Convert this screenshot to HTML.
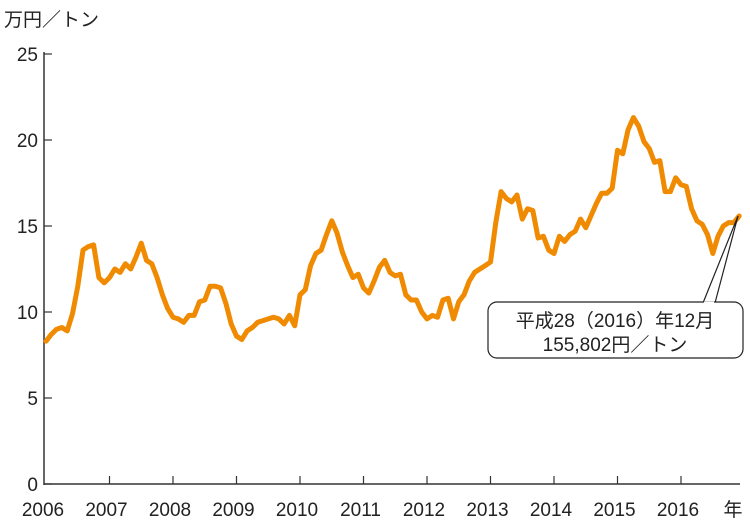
<!DOCTYPE html>
<html><head><meta charset="utf-8"><style>
body{margin:0;background:#fff;}
svg{display:block;font-family:"Liberation Sans","Noto Sans CJK JP",sans-serif;}
</style></head><body>
<svg width="750" height="531" viewBox="0 0 750 531">
<g id="axes"></g>
<g id="plot"></g>
<text x="4" y="26" font-size="19" fill="#222">万円／トン</text>
<g>
<polyline points="703,303 738,216 715,303" fill="#fff" stroke="#222" stroke-width="1.2"/>
<rect x="488" y="302" width="255" height="56" rx="9" fill="#fff" stroke="#222" stroke-width="1.2"/>
<line x1="704" y1="302.6" x2="714" y2="302.6" stroke="#fff" stroke-width="2"/>
<text x="615" y="327" font-size="19" text-anchor="middle" fill="#222">平成28（2016）年12月</text>
<text x="615" y="351" font-size="19" text-anchor="middle" fill="#222">155,802円／トン</text>
</g>
</svg>
<script>
const yTicks=[0,5,10,15,20,25];
const years=["2006","2007","2008","2009","2010","2011","2012","2013","2014","2015","2016"];
const prices=[8.3,8.7,9.0,9.1,8.9,9.9,11.5,13.6,13.8,13.9,12.0,11.7,
12.0,12.5,12.3,12.8,12.5,13.2,14.0,13.0,12.8,12.0,11.0,10.2,
9.7,9.6,9.4,9.8,9.8,10.6,10.7,11.5,11.5,11.4,10.5,9.3,
8.6,8.4,8.9,9.1,9.4,9.5,9.6,9.7,9.6,9.3,9.8,9.2,
11.0,11.3,12.7,13.4,13.6,14.5,15.3,14.6,13.5,12.7,12.0,12.2,
11.4,11.1,11.8,12.6,13.0,12.3,12.1,12.2,11.0,10.7,10.7,10.0,
9.6,9.8,9.7,10.7,10.8,9.6,10.6,11.0,11.8,12.3,12.5,12.7,
12.9,15.2,17.0,16.6,16.4,16.8,15.4,16.0,15.9,14.3,14.4,13.6,
13.4,14.4,14.1,14.5,14.7,15.4,14.9,15.6,16.3,16.9,16.9,17.2,
19.4,19.2,20.6,21.3,20.8,19.9,19.5,18.7,18.8,17.0,17.0,17.8,
17.4,17.3,16.0,15.3,15.1,14.5,13.4,14.4,15.0,15.2,15.2,15.58];
const NS="http://www.w3.org/2000/svg";
const X0=46,YEARW=63.5;
function xMonth(i){return X0+i*YEARW/12;}
function xYear(k){return X0+k*YEARW;}
function yVal(v){return 484-v*17.2;}
function mk(tag,attrs,parent){const e=document.createElementNS(NS,tag);for(const k in attrs)e.setAttribute(k,attrs[k]);parent.appendChild(e);return e;}
const axes=document.getElementById('axes'),plot=document.getElementById('plot');
let ya=mk('line',{x1:44,y1:yVal(25)-2,x2:44,y2:485,stroke:'#333','stroke-width':1.5},axes);


let xa=mk('line',{x1:44,y1:484,x2:740,y2:484,stroke:'#333','stroke-width':1.5},axes);


yTicks.forEach(v=>{
 const t=mk('line',{x1:44,y1:yVal(v),x2:52,y2:yVal(v),stroke:'#333','stroke-width':1.2},axes);
 
 
 const l=mk('text',{x:38,y:yVal(v)+7,'font-size':19,'text-anchor':'end',fill:'#222'},axes);
 l.textContent=v;
 
 
});
years.forEach((y,k)=>{
 if(k>0){const t=mk('line',{x1:xYear(k),y1:476,x2:xYear(k),y2:484,stroke:'#333','stroke-width':1.2},axes);
 
 }
 const l=mk('text',{x:xYear(k)-3,y:516,'font-size':19,'text-anchor':'middle',fill:'#222'},axes);
 l.textContent=y;
 
 
});
const yl=mk('text',{x:733,y:516,'font-size':19,'text-anchor':'middle',fill:'#222'},axes);
yl.textContent='年';


const pts=prices.map((v,i)=>xMonth(i).toFixed(1)+','+yVal(v).toFixed(1)).join(' ');
const pl=mk('polyline',{points:pts,fill:'none',stroke:'#f08a00','stroke-width':5,'stroke-linejoin':'round','stroke-linecap':'round'},plot);


</script>
</body></html>
